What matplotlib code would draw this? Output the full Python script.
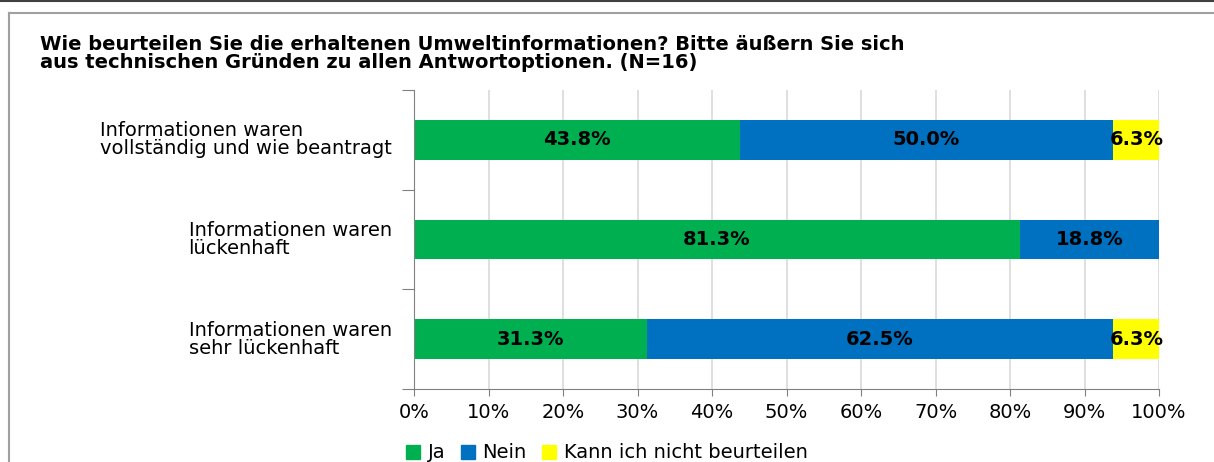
import numpy as np
import matplotlib.pyplot as plt
from matplotlib.lines import Line2D
from matplotlib.patches import Patch

plt.rcParams['font.family'] = ['DejaVu Sans']

# Umfragedaten (Anteile in %)
kategorien = ['Informationen waren\nvollständig und wie beantragt',
              'Informationen waren\nlückenhaft',
              'Informationen waren\nsehr lückenhaft']
ja = [43.8, 81.3, 31.3]
nein = [50.0, 18.8, 62.5]
weiss_nicht = [6.3, 0.0, 6.3]
serien = ['Ja', 'Nein', 'Kann ich nicht beurteilen']
farben = ['#00B050', '#0070C0', '#FFFF00']
titel = ('Wie beurteilen Sie die erhaltenen Umweltinformationen? Bitte äußern Sie sich\n'
         'aus technischen Gründen zu allen Antwortoptionen. (N=16)')

fs = 14

fig = plt.figure(figsize=(12.14, 4.62), dpi=100)
ax = fig.add_axes([414/1214, 1-389/462, (1159-414)/1214, (389-90)/462])

y = np.arange(len(kategorien))
links = np.zeros(len(kategorien))
for werte, name, farbe in zip([ja, nein, weiss_nicht], serien, farben):
    werte = np.array(werte)
    ax.barh(y, werte, left=links, height=0.4, color=farbe, label=name, zorder=2)
    for yi, l, w in zip(y, links, werte):
        if w > 0:
            ax.text(l + w/2, yi, f'{w:.1f}%', ha='center', va='center',
                    fontsize=fs, fontweight='bold', color='black', zorder=3)
    links += werte

ax.set_xlim(0, 100)
ax.set_ylim(2.5, -0.5)
ax.set_xticks(np.arange(0, 101, 10))
ax.set_xticklabels([f'{v}%' for v in range(0, 101, 10)], fontsize=fs)
ax.set_yticks([-0.5, 0.5, 1.5, 2.5])
ax.set_yticklabels([])
ax.tick_params(axis='y', length=9, color='#808080')
ax.tick_params(axis='x', length=5, color='#808080', pad=5)
ax.grid(axis='x', color='#d9d9d9', linewidth=1.2, zorder=0)
ax.set_axisbelow(True)
for s in ['top', 'right']:
    ax.spines[s].set_visible(False)
for s in ['left', 'bottom']:
    ax.spines[s].set_color('#808080')

# Kategorienbeschriftung links, als Block rechtsbündig
for yi, txt in zip(y, kategorien):
    ax.text(-0.03, yi, txt, transform=ax.get_yaxis_transform(), ha='right', va='center',
            multialignment='left', fontsize=fs, linespacing=0.95)

fig.text(40/1214, 1-35/462, titel, ha='left', va='top', fontsize=fs,
         fontweight='bold', linespacing=0.9)

# Rahmen
fig.add_artist(Line2D([0, 1], [1-0.5/462, 1-0.5/462], color='#404040', lw=1.5))
fig.add_artist(Line2D([9/1214, 1], [1-13/462, 1-13/462], color='#a0a0a0', lw=1.5))
fig.add_artist(Line2D([9/1214, 9/1214], [0, 1-13/462], color='#a0a0a0', lw=1.5))

handles = [Patch(color=c, label=n) for c, n in zip(farben, serien)]
fig.legend(handles=handles, loc='center', bbox_to_anchor=(0.5, 1-453/462), ncol=3,
           frameon=False, fontsize=fs, handlelength=0.7, handleheight=0.7,
           handletextpad=0.4, columnspacing=0.8, borderaxespad=0)

fig.savefig('out.png', dpi=100)
